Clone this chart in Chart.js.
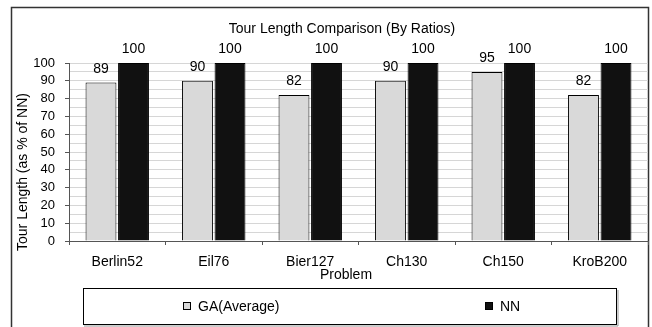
<!DOCTYPE html>
<html>
<head>
<meta charset="utf-8">
<script src="https://cdn.jsdelivr.net/npm/chart.js@4/dist/chart.umd.min.js"></script>
<style>
  html, body { margin: 0; padding: 0; background: #fff; }
  #wrap { width: 652px; height: 327px; position: relative; }
</style>
</head>
<body>
<div id="wrap"><canvas id="c" width="652" height="327"></canvas></div>
<script>
const categories = ['Berlin52', 'Eil76', 'Bier127', 'Ch130', 'Ch150', 'KroB200'];
const gaValues = [89, 90, 82, 90, 95, 82];
const nnValues = [100, 100, 100, 100, 100, 100];
const seriesNames = ['GA(Average)', 'NN'];
const chartTitle = 'Tour Length Comparison (By Ratios)';
const yTitle = 'Tour Length (as % of NN)';
const xTitle = 'Problem';

const FONT = '"Liberation Sans", Arial, sans-serif';

const framePlugin = {
  id: 'frame',
  beforeDraw(chart) {
    const ctx = chart.ctx;
    ctx.save();
    ctx.fillStyle = '#fff';
    ctx.fillRect(0, 0, chart.width, chart.height);
    ctx.strokeStyle = '#333';
    ctx.lineWidth = 1.5;
    ctx.strokeRect(11.5, 7.5, 637, 340);
    ctx.restore();
  },
  afterDraw(chart) {
    const ctx = chart.ctx;
    ctx.save();
    ctx.fillStyle = '#000';
    ctx.font = '14px ' + FONT;
    ctx.textAlign = 'center';
    ctx.textBaseline = 'alphabetic';
    ctx.fillText(chartTitle, 342, 33);
    ctx.fillText(xTitle, 346, 279);
    // y title
    ctx.save();
    ctx.translate(23, 172);
    ctx.rotate(-Math.PI / 2);
    ctx.textBaseline = 'middle';
    ctx.fillText(yTitle, 0, 0);
    ctx.restore();
    // legend
    ctx.strokeStyle = '#000';
    ctx.lineWidth = 1;
    ctx.strokeRect(83.5, 288.5, 533, 36);
    ctx.strokeStyle = '#999';
    ctx.beginPath();
    ctx.moveTo(84, 326); ctx.lineTo(618, 326);
    ctx.moveTo(618, 290); ctx.lineTo(618, 326);
    ctx.stroke();
    const items = [{x: 183}, {x: 485}];
    chart.data.datasets.forEach((ds, i) => {
      const x = items[i].x;
      ctx.fillStyle = ds.backgroundColor;
      ctx.fillRect(x, 302, 8, 8);
      ctx.strokeStyle = '#000';
      ctx.strokeRect(x + 0.5, 302.5, 7, 7);
      ctx.fillStyle = '#000';
      ctx.textAlign = 'left';
      ctx.fillText(ds.label, x + 15, 311);
    });
    ctx.restore();
  },
  afterDatasetsDraw(chart) {
    const ctx = chart.ctx;
    ctx.save();
    ctx.fillStyle = '#000';
    ctx.font = '14px ' + FONT;
    ctx.textAlign = 'center';
    ctx.textBaseline = 'alphabetic';
    chart.data.datasets.forEach((ds, di) => {
      const meta = chart.getDatasetMeta(di);
      meta.data.forEach((bar, i) => {
        ctx.fillText(String(ds.data[i]), bar.x, bar.y - 10);
      });
    });
    ctx.restore();
  }
};

new Chart(document.getElementById('c'), {
  type: 'bar',
  data: {
    labels: categories,
    datasets: [
      { label: seriesNames[0], data: gaValues, backgroundColor: '#d9d9d9', borderColor: '#000', borderWidth: 1 },
      { label: seriesNames[1], data: nnValues, backgroundColor: '#111111', borderColor: '#000', borderWidth: 1 }
    ]
  },
  options: {
    responsive: false,
    animation: false,
    devicePixelRatio: 1,
    categoryPercentage: 0.674,
    barPercentage: 0.95,
    layout: { padding: { top: 63, right: 4, left: 0, bottom: 0 } },
    plugins: {
      legend: { display: false },
      title: { display: false },
      tooltip: { enabled: false }
    },
    scales: {
      x: {
        afterFit(scale) { scale.height = 86; },
        grid: { offset: true, drawOnChartArea: false, drawTicks: true, tickLength: 4, color: '#555' },
        border: { color: '#555', width: 1 },
        ticks: { color: '#000', font: { family: FONT, size: 14 }, padding: 9, maxRotation: 0 }
      },
      y: {
        min: 0,
        max: 100,
        afterFit(scale) { scale.width = 69; },
        grid: {
          color: (c) => (c.tick && c.tick.value === 0) ? 'rgba(0,0,0,0)' : '#d6d6d6',
          tickColor: (c) => (c.tick && c.tick.value % 10 === 0) ? '#555' : 'rgba(0,0,0,0)',
          tickLength: 4
        },
        border: { color: '#555', width: 1 },
        ticks: {
          stepSize: 5,
          autoSkip: false,
          color: '#000',
          font: { family: FONT, size: 13 },
          padding: 10,
          callback: (v) => (v % 10 === 0 ? String(v) : '')
        }
      }
    }
  },
  plugins: [framePlugin]
});
</script>
</body>
</html>
